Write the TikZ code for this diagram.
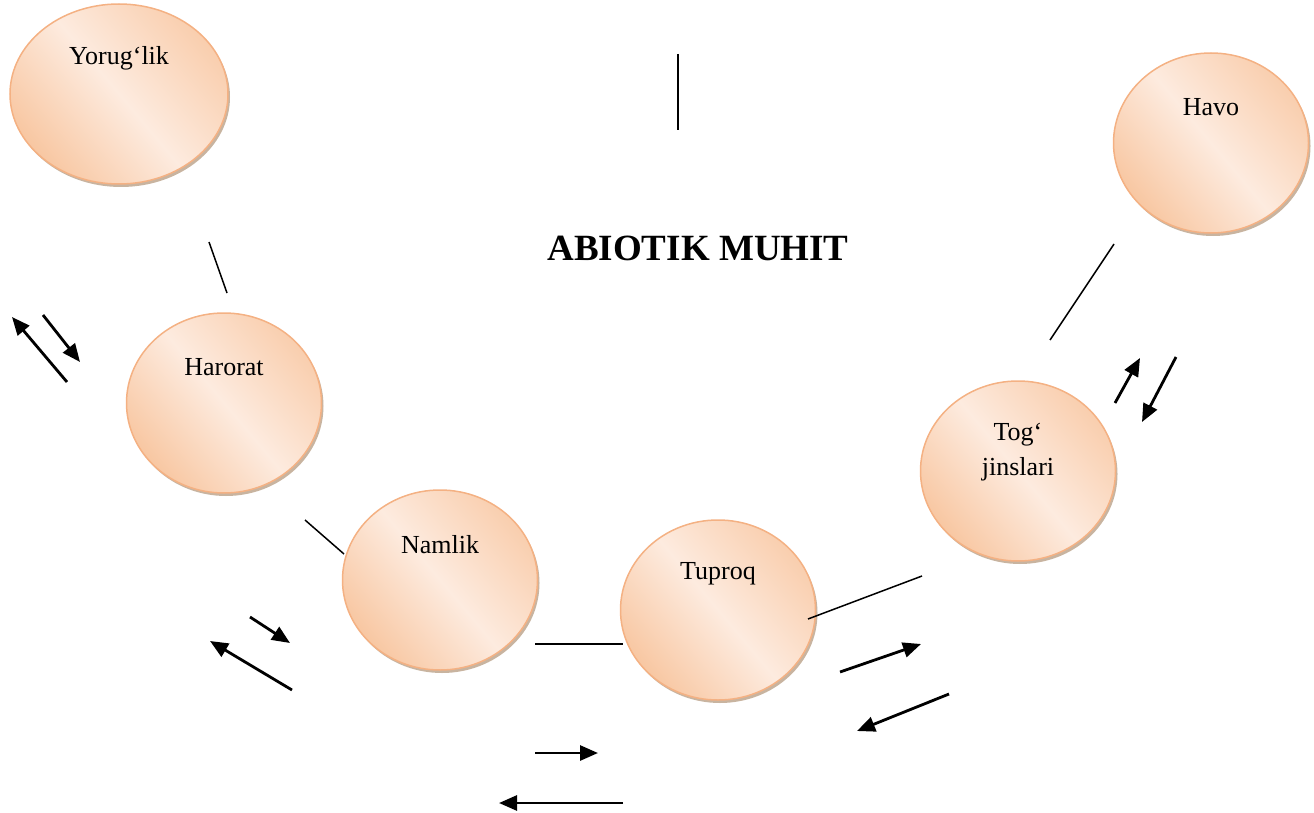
\documentclass[tikz,border=0pt]{standalone}
\usepackage{fontspec}
\setmainfont{Liberation Serif}
\usetikzlibrary{positioning,shapes.geometric,arrows.meta,shadows,calc}
\definecolor{peachdark}{HTML}{F8C7A2}
\definecolor{peachlight}{HTML}{FDEBDF}
\definecolor{peachline}{HTML}{F4B183}

\begin{document}
\begin{tikzpicture}[x=1pt, y=-1pt,
      ball/.style={ellipse, draw=peachline, line width=1.5pt, inner sep=0pt,
        minimum width=195pt, minimum height=180pt,
        left color=peachdark, right color=peachdark!80!peachlight, middle color=peachlight,
        shading angle=130,
        drop shadow={shadow xshift=2pt, shadow yshift=-3pt,
          fill=brown!70!black, opacity=0.45}},
      txt/.style={anchor=center, yshift=-55pt, align=center,
        font=\fontsize{26}{35}\selectfont},
      link/.style={line width=1.5pt},
      flow/.style={line width=2.8pt, -{Triangle[length=18pt,width=15pt]}}
  ]
    \useasboundingbox (0,0) rectangle (1314,813);

    % abiotik omillar
    \node[ball, minimum width=218pt, label={[txt]north:Yorug‘lik}] (yorug) at (119,94) {};
    \node[ball, label={[txt]north:Harorat}] (harorat) at (224,403) {};
    \node[ball, label={[txt]north:Namlik}] (namlik) at (440,580) {};
    \node[ball, label={[txt]north:Tuproq}] (tuproq) at (718,610) {};
    \node[ball, label={[txt, yshift=-17pt]north:Tog‘\\jinslari}] (tog) at (1018,471) {};
    \node[ball, label={[txt]north:Havo}] (havo) at (1211,143) {};

    \node[font=\bfseries\fontsize{37}{44}\selectfont] (title) at (698,248) {ABIOTIK MUHIT};

    % bog'lovchi chiziqlar
    \coordinate (v1) at (678,54);   \coordinate (v2) at (678,130);
    \coordinate (yh1) at (209,242); \coordinate (yh2) at (227,293);
    \coordinate (hn1) at (305,520); \coordinate (hn2) at (344,554);
    \coordinate (nt1) at (535,644); \coordinate (nt2) at (623,644);
    \coordinate (tt1) at (808,619); \coordinate (tt2) at (922,576);
    \coordinate (th1) at (1050,340); \coordinate (th2) at (1114,244);
    \draw[link] (v1) -- (v2);
    \draw[link] (yh1) -- (yh2);
    \draw[link] (hn1) -- (hn2);
    \draw[link] (nt1) -- (nt2);
    \draw[link] (tt1) -- (tt2);
    \draw[link] (th1) -- (th2);

    % o'zaro ta'sir strelkalari
    \coordinate (a1s) at (67,382);   \coordinate (a1e) at (12,317);
    \coordinate (a2s) at (43,315);   \coordinate (a2e) at (80,362);
    \coordinate (b1s) at (250,617);  \coordinate (b1e) at (290,643);
    \coordinate (b2s) at (292,690);  \coordinate (b2e) at (210,641);
    \coordinate (c1s) at (535,753);  \coordinate (c1e) at (598,753);
    \coordinate (c2s) at (623,803);  \coordinate (c2e) at (499,803);
    \coordinate (d1s) at (840,672);  \coordinate (d1e) at (921,644);
    \coordinate (d2s) at (949,694);  \coordinate (d2e) at (857,731);
    \coordinate (e1s) at (1115,403); \coordinate (e1e) at (1140,358);
    \coordinate (e2s) at (1176,357); \coordinate (e2e) at (1142,422);
    \foreach \p in {a1,a2,b1,b2,c1,c2,d1,d2,e1,e2}
      \draw[flow] (\p s) -- (\p e);
\end{tikzpicture}
\end{document}
